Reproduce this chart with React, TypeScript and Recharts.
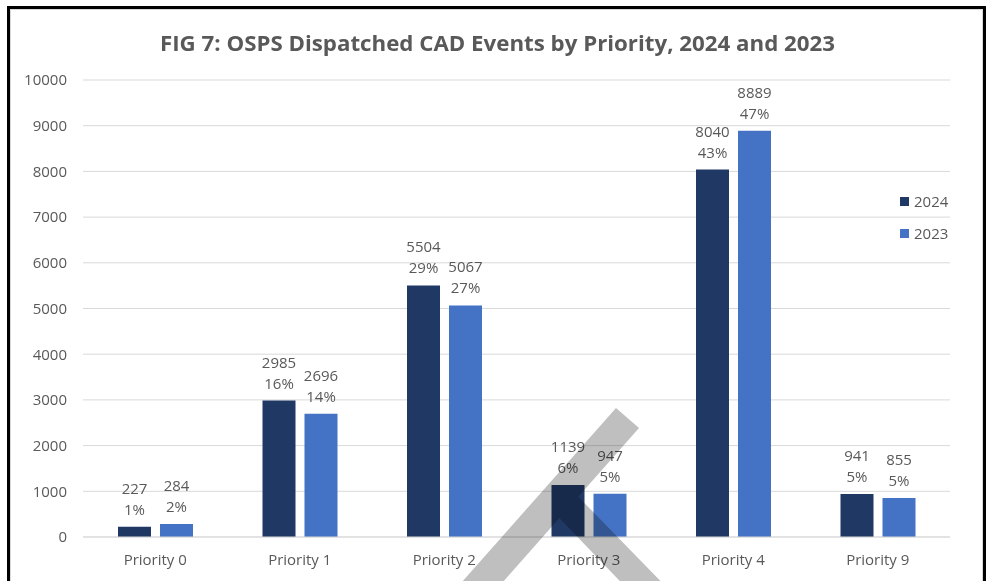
import React from 'react'
import { BarChart, Bar, XAxis, YAxis, CartesianGrid, Legend, LabelList } from 'recharts'

const categories = ['Priority 0', 'Priority 1', 'Priority 2', 'Priority 3', 'Priority 4', 'Priority 9']
const events2024 = [227, 2985, 5504, 1139, 8040, 941]
const events2023 = [284, 2696, 5067, 947, 8889, 855]
const share2024 = [1, 16, 29, 6, 43, 5]
const share2023 = [2, 14, 27, 5, 47, 5]
const yTicks = [0, 1000, 2000, 3000, 4000, 5000, 6000, 7000, 8000, 9000, 10000]

const data = categories.map((name, i) => ({
  name,
  y2024: events2024[i],
  y2023: events2023[i],
}))

const FONT = '"Open Sans", "Noto Sans", sans-serif'
const TEXT = '#595959'
const DARK = '#203864'
const LIGHT = '#4472C4'

// two-line label: count over percent share
const twoLine = (shares: number[]) => (props: any) => {
  const { x, y, width, value, index } = props
  const cx = Number(x) + Number(width) / 2
  return (
    <text textAnchor="middle" fill={TEXT} fontSize={15} fontFamily={FONT}>
      <tspan x={cx} y={Number(y) - 33}>{value}</tspan>
      <tspan x={cx} y={Number(y) - 12}>{shares[index]}%</tspan>
    </text>
  )
}

const LegendBox = (props: any) => {
  // newest year first, as in the source figure
  const items = [...(props.payload || [])].sort((a: any, b: any) => String(b.value).localeCompare(String(a.value)))
  return (
    <div style={{ fontFamily: FONT, fontSize: 15, color: TEXT, whiteSpace: 'nowrap', width: 60 }}>
      {items.map((it: any) => (
        <div key={it.value} style={{ display: 'flex', alignItems: 'center', height: 32 }}>
          <span style={{ width: 9, minWidth: 9, height: 9, flexShrink: 0, background: it.color, marginRight: 5, display: 'inline-block' }} />
          {it.value}
        </div>
      ))}
    </div>
  )
}

export default function App() {
  return (
    <div style={{ position: 'absolute', left: 0, top: 0, width: 989, height: 581, background: '#fff', overflow: 'hidden' }}>
      <div style={{ position: 'absolute', left: 7, top: 6, width: 973, height: 640, border: '3px solid #000' }}>
        <div style={{ position: 'absolute', inset: 0, border: '1px solid #d9d9d9' }} />
      </div>
      <svg width={989} height={70} style={{ position: 'absolute', left: 0, top: 0 }}>
        <text x={160} y={51} fontSize={22} fontWeight="bold" fontFamily={FONT} fill={TEXT} textLength={675} lengthAdjust="spacingAndGlyphs">
          FIG 7: OSPS Dispatched CAD Events by Priority, 2024 and 2023
        </text>
      </svg>
      <div style={{ position: 'absolute', left: 0, top: 0 }}>
        <BarChart width={989} height={581} data={data} margin={{ top: 80, right: 39, bottom: 14, left: 23 }} barSize={33} barGap={9}>
          <CartesianGrid vertical={false} stroke="#d9d9d9" />
          <XAxis
            dataKey="name"
            height={30}
            axisLine={{ stroke: '#d9d9d9' }}
            tickLine={false}
            tickMargin={11}
            tick={{ fill: TEXT, fontSize: 15, fontFamily: FONT }}
          />
          <YAxis
            width={60}
            domain={[0, 10000]}
            ticks={yTicks}
            axisLine={false}
            tickLine={false}
            tickMargin={10}
            tick={{ fill: TEXT, fontSize: 15, fontFamily: FONT }}
          />
          <Legend
            layout="vertical"
            verticalAlign="top"
            align="right"
            content={<LegendBox />}
            wrapperStyle={{ position: 'absolute', left: 900, top: 185, width: 0, height: 0, overflow: 'visible' }}
          />
          <Bar dataKey="y2024" name="2024" fill={DARK} isAnimationActive={false}>
            <LabelList dataKey="y2024" content={twoLine(share2024)} />
          </Bar>
          <Bar dataKey="y2023" name="2023" fill={LIGHT} isAnimationActive={false}>
            <LabelList dataKey="y2023" content={twoLine(share2023)} />
          </Bar>
        </BarChart>
      </div>
      {/* grey strike mark laid over the picture */}
      <svg width={989} height={581} style={{ position: 'absolute', left: 0, top: 0, pointerEvents: 'none' }}>
        <g style={{ mixBlendMode: 'multiply' }}>
          <polygon points="616,408 639,428 487,600 446,600" fill="#bfbfbf" />
          <polygon points="560,478 679,600 638,600 542,500" fill="#bfbfbf" />
        </g>
      </svg>
    </div>
  )
}
